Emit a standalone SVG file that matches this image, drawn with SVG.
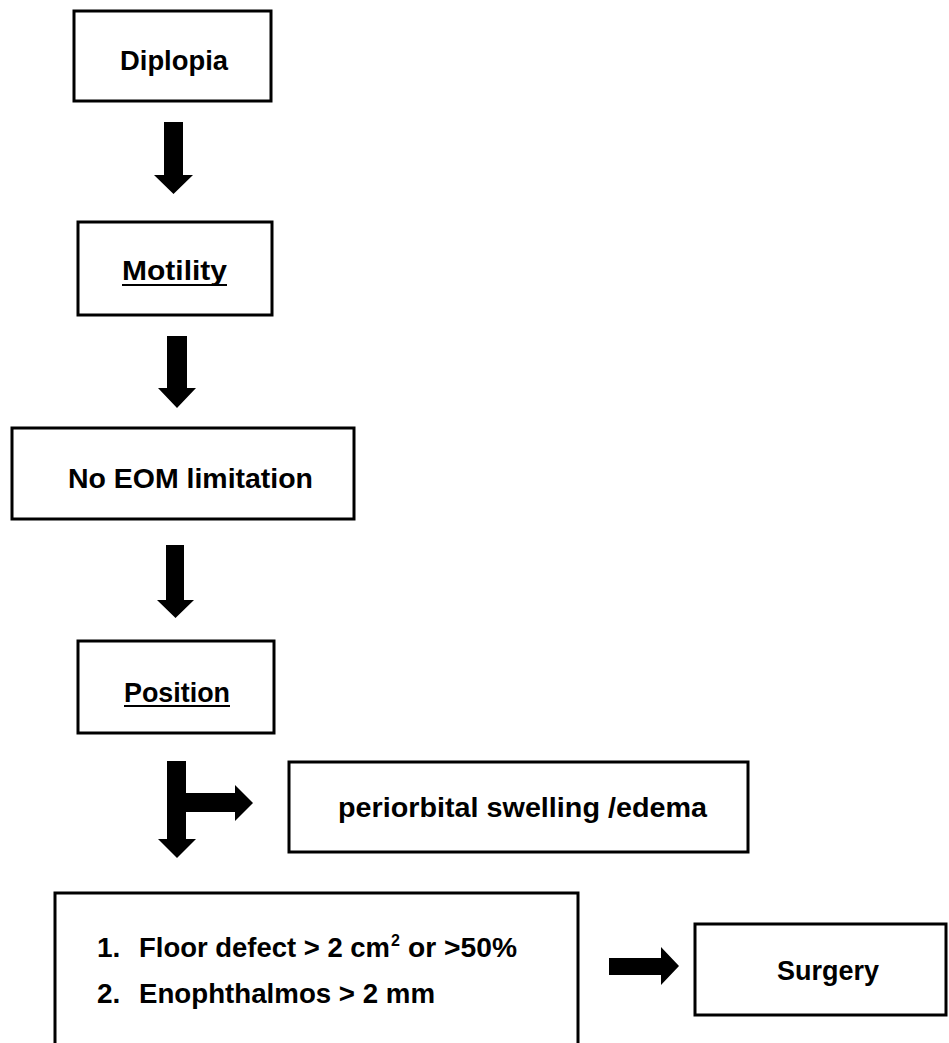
<svg xmlns="http://www.w3.org/2000/svg" width="949" height="1043" viewBox="0 0 949 1043">
<style>
.box{fill:#fff;stroke:#000;stroke-width:3}
.lbl{font-family:"Liberation Sans",Arial,sans-serif;font-weight:bold;font-size:28px;fill:#000}
.sup{font-size:16px}
.arr{fill:#000;stroke:none}
.ul{stroke:#000;stroke-width:2}
</style>
<rect width="949" height="1043" fill="#fff"/>
<g id="connectors">
<polygon class="arr" points="164,122 183,122 183,175 193,175 173.5,194 154,175 164,175"/>
<polygon class="arr" points="167,336 187,336 187,388 196,388 177,408 158,388 167,388"/>
<polygon class="arr" points="166,545 184,545 184,600 194,600 175.5,618 157,600 166,600"/>
<polygon class="arr" points="167,761 186,761 186,793 235,793 235,785 253,803 235,821 235,812 186,812 186,839 196,839 177,858 158,839 167,839"/>
<polygon class="arr" points="609,958 661,958 661,947 679,966 661,985 661,975 609,975"/>
</g>
<g id="diplopia">
<rect class="box" x="74" y="11" width="197" height="90"/>
<text class="lbl" x="120" y="70" textLength="108" lengthAdjust="spacingAndGlyphs">Diplopia</text>
</g>
<g id="motility">
<rect class="box" x="78" y="222" width="194" height="93"/>
<text class="lbl" x="122" y="280" textLength="105" lengthAdjust="spacingAndGlyphs">Motility</text>
<line class="ul" x1="122" y1="285" x2="227" y2="285"/>
</g>
<g id="no-eom">
<rect class="box" x="12" y="428" width="342" height="91"/>
<text class="lbl" x="68" y="488" textLength="245" lengthAdjust="spacingAndGlyphs">No EOM limitation</text>
</g>
<g id="position">
<rect class="box" x="78" y="641" width="196" height="92"/>
<text class="lbl" x="124" y="702" textLength="106" lengthAdjust="spacingAndGlyphs">Position</text>
<line class="ul" x1="124" y1="706" x2="230" y2="706"/>
</g>
<g id="periorbital">
<rect class="box" x="289" y="762" width="459" height="90"/>
<text class="lbl" x="338" y="817" textLength="369" lengthAdjust="spacingAndGlyphs">periorbital swelling /edema</text>
</g>
<g id="criteria">
<rect class="box" x="55" y="893" width="523" height="160"/>
<text class="lbl" x="97" y="957">1.</text>
<text class="lbl" x="139" y="957"><tspan textLength="251" lengthAdjust="spacingAndGlyphs">Floor defect &gt; 2 cm</tspan><tspan class="sup" x="391" dy="-11">2</tspan><tspan x="408" dy="11" textLength="109" lengthAdjust="spacingAndGlyphs">or &gt;50%</tspan></text>
<text class="lbl" x="97" y="1003">2.</text>
<text class="lbl" x="139" y="1003" textLength="296" lengthAdjust="spacingAndGlyphs">Enophthalmos &gt; 2 mm</text>
</g>
<g id="surgery">
<rect class="box" x="695" y="924" width="251" height="91"/>
<text class="lbl" x="777" y="980" textLength="102" lengthAdjust="spacingAndGlyphs">Surgery</text>
</g>
</svg>
